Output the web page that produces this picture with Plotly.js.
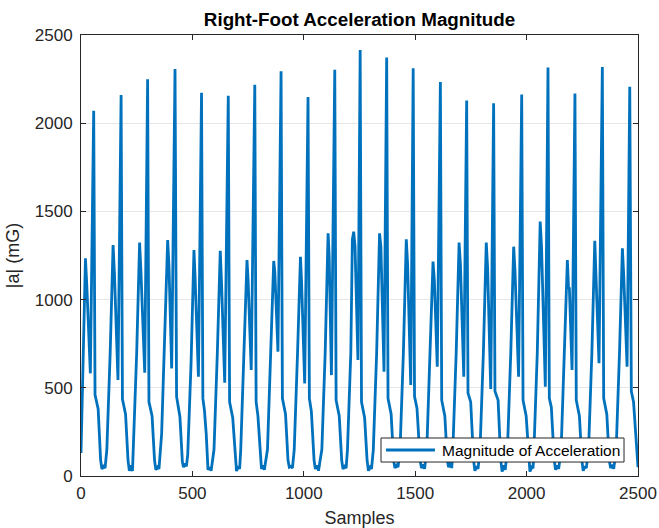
<!DOCTYPE html>
<html>
<head>
<meta charset="utf-8">
<script src="https://cdn.plot.ly/plotly-3.0.1.min.js"></script>
<style>html,body{margin:0;padding:0;background:#fff;}#chart{width:659px;height:528px;}</style>
</head>
<body>
<div id="chart"></div>
<script>
// Sample index (x) and acceleration magnitude in mG (y), one gait cycle per line
const sampleIndex = [
  0, 20, 26, 42, 57, 63, 77, 88, 94, 102, 108, 116, 131,
  144, 150, 166, 180, 186, 200, 211, 217, 225, 231, 235, 250,
  263, 269, 286, 299, 305, 319, 330, 336, 344, 350, 362, 377,
  389, 395, 407, 422, 429, 444, 455, 460, 467, 473, 479, 494,
  507, 512, 527, 541, 547, 554, 562, 570, 578, 584, 597, 612,
  625, 631, 645, 661, 667, 681, 692, 698, 706, 712, 717, 732,
  745, 750, 764, 780, 786, 794, 804, 810, 817, 823, 837, 852,
  865, 870, 884, 898, 904, 918, 929, 935, 943, 949, 957, 972,
  985, 990, 1004, 1019, 1025, 1034, 1046, 1052, 1060, 1066, 1081, 1096,
  1109, 1114, 1124, 1139, 1145, 1159, 1170, 1176, 1184, 1190, 1196, 1211,
  1218, 1224, 1230, 1243, 1253, 1259, 1273, 1284, 1290, 1298, 1304, 1312, 1327,
  1340, 1346, 1360, 1372, 1378, 1392, 1403, 1409, 1417, 1423, 1432, 1447,
  1460, 1466, 1480, 1491, 1497, 1508, 1522, 1528, 1536, 1542, 1552, 1567,
  1580, 1586, 1599, 1613, 1619, 1633, 1644, 1650, 1658, 1664, 1669, 1684,
  1697, 1703, 1718, 1731, 1737, 1749, 1762, 1768, 1776, 1782, 1791, 1806,
  1819, 1825, 1839, 1852, 1858, 1872, 1884, 1890, 1898, 1904, 1914, 1929,
  1942, 1948, 1964, 1978, 1984, 1998, 2009, 2015, 2023, 2029, 2033, 2048,
  2061, 2067, 2084, 2096, 2102, 2111, 2124, 2130, 2138, 2144, 2155, 2170,
  2183, 2188, 2192, 2204, 2217, 2223, 2237, 2248, 2254, 2262, 2268, 2278, 2293,
  2306, 2312, 2325, 2340, 2346, 2360, 2371, 2377, 2385, 2391, 2402, 2417,
  2430, 2436, 2451, 2463, 2470, 2480, 2500
];
const accelMagnitude = [
  130, 1234, 1080, 582, 2071, 460, 380, 90, 40, 55, 45, 150, 700,
  1309, 1150, 544, 2160, 436, 350, 90, 30, 60, 28, 150, 700,
  1323, 1160, 586, 2249, 420, 340, 90, 35, 50, 40, 240, 800,
  1338, 1187, 610, 2307, 450, 336, 80, 50, 70, 55, 120, 640,
  1281, 1130, 563, 2173, 440, 374, 240, 35, 50, 30, 150, 700,
  1277, 1085, 529, 2155, 420, 330, 90, 28, 55, 40, 150, 700,
  1224, 1110, 601, 2218, 420, 342, 120, 40, 60, 35, 150, 700,
  1219, 1155, 705, 2294, 440, 350, 90, 50, 55, 45, 150, 700,
  1243, 1100, 525, 2149, 440, 365, 90, 40, 60, 30, 150, 700,
  1376, 1243, 572, 2303, 430, 340, 90, 40, 55, 45, 150, 700,
  1340, 1385, 1300, 658, 2415, 420, 330, 90, 30, 50, 40, 150, 700,
  1376, 1300, 591, 2373, 440, 350, 90, 45, 60, 50, 150, 700,
  1342, 1200, 516, 2311, 450, 384, 90, 45, 65, 40, 150, 700,
  1215, 1110, 620, 2234, 430, 340, 90, 50, 80, 45, 150, 700,
  1323, 1200, 563, 2128, 470, 420, 90, 30, 55, 40, 150, 700,
  1323, 1180, 493, 2113, 480, 430, 90, 25, 60, 35, 150, 700,
  1300, 1160, 563, 2162, 430, 340, 90, 25, 50, 45, 150, 700,
  1442, 1300, 506, 2315, 440, 390, 90, 35, 60, 40, 150, 700,
  1224, 1070, 1064, 601, 2168, 430, 340, 90, 30, 55, 45, 150, 700,
  1334, 1134, 639, 2319, 440, 350, 90, 45, 65, 40, 150, 700,
  1291, 1135, 620, 2206, 480, 420, 50
];
const xTicks = [0, 500, 1000, 1500, 2000, 2500];
const yTicks = [0, 500, 1000, 1500, 2000, 2500];
const seriesName = 'Magnitude of Acceleration';

const FONT = 'Liberation Sans, Arial, Helvetica, sans-serif';
const AX = '#262626';
const LINE_COLOR = '#0072BD';

const trace = {
  x: sampleIndex,
  y: accelMagnitude,
  type: 'scatter',
  mode: 'lines',
  name: seriesName,
  line: {color: LINE_COLOR, width: 2.8},
  showlegend: false
};

const axisCommon = {
  range: [0, 2500],
  tickmode: 'array',
  ticks: 'inside',
  ticklen: 5,
  tickwidth: 1,
  tickcolor: AX,
  showline: true,
  linecolor: AX,
  linewidth: 1,
  mirror: 'ticks',
  zeroline: false,
  tickfont: {family: FONT, size: 17, color: AX},
  fixedrange: true
};

// legend box geometry in paper coordinates (custom MATLAB-style legend)
const lg = {x0: 0.5386, x1: 0.9749, y0: 0.0317, y1: 0.0862};
const lgMid = (lg.y0 + lg.y1) / 2;

const layout = {
  width: 659,
  height: 528,
  margin: {l: 81, r: 21, t: 35, b: 52, pad: 0},
  paper_bgcolor: '#ffffff',
  plot_bgcolor: '#ffffff',
  font: {family: FONT, color: AX},
  title: {
    text: '<b>Right-Foot Acceleration Magnitude</b>',
    font: {family: FONT, size: 18.8, color: '#000000'},
    xref: 'paper', x: 0.5, xanchor: 'center',
    yref: 'container', y: 1 - 19 / 528, yanchor: 'middle'
  },
  xaxis: Object.assign({}, axisCommon, {
    tickvals: xTicks,
    ticktext: xTicks.map(String),
    showgrid: false,
    ticklabelstandoff: 2,
    title: {text: 'Samples', font: {family: FONT, size: 18, color: AX}, standoff: 10}
  }),
  yaxis: Object.assign({}, axisCommon, {
    tickvals: yTicks,
    ticktext: yTicks.map(String),
    showgrid: true,
    gridcolor: '#e6e6e6',
    gridwidth: 1,
    ticklabelstandoff: 4,
    title: {text: '|a| (mG)', font: {family: FONT, size: 18, color: AX}, standoff: 10}
  }),
  showlegend: false,
  shapes: [
    {type: 'rect', xref: 'paper', yref: 'paper', x0: lg.x0, x1: lg.x1, y0: lg.y0, y1: lg.y1,
     fillcolor: '#ffffff', line: {color: AX, width: 1}, layer: 'above'},
    {type: 'line', xref: 'paper', yref: 'paper', x0: 0.5476, x1: 0.6355, y0: lgMid, y1: lgMid,
     line: {color: LINE_COLOR, width: 2.8}, layer: 'above'}
  ],
  annotations: [
    {xref: 'paper', yref: 'paper', x: 0.6445, y: lgMid, xanchor: 'left', yanchor: 'middle',
     text: seriesName, showarrow: false, font: {family: FONT, size: 15.5, color: '#000000'}}
  ]
};

Plotly.newPlot('chart', [trace], layout, {displayModeBar: false, staticPlot: true});
</script>
</body>
</html>
